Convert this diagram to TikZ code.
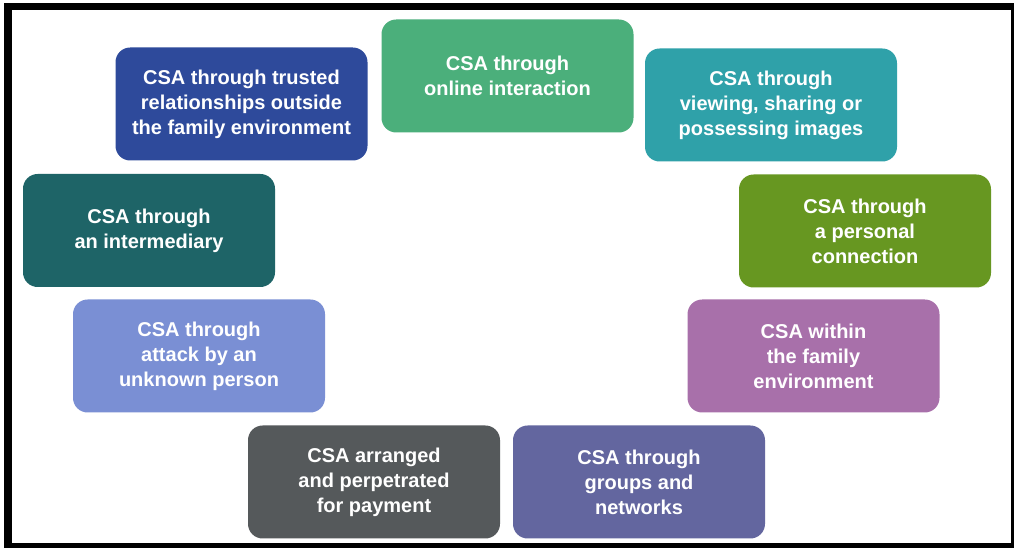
\documentclass[tikz,border=0pt]{standalone}
\usepackage{fontspec}
\usepackage{xcolor}
\usepackage{tikz}
\newfontfamily\boxfont{Liberation Sans}

\definecolor{csablue}{HTML}{2E4A9B}
\definecolor{csagreen}{HTML}{4BAF7B}
\definecolor{csateal}{HTML}{2FA1A9}
\definecolor{csaolive}{HTML}{679721}
\definecolor{csamauve}{HTML}{A870AA}
\definecolor{csaviolet}{HTML}{63669F}
\definecolor{csagrey}{HTML}{55595B}
\definecolor{csasky}{HTML}{7A8FD4}
\definecolor{csapine}{HTML}{1E6467}

\begin{document}
\begin{tikzpicture}[
  x=0.75pt, y=-0.75pt,
  csabox/.style={rounded corners=11pt, minimum width=189pt, minimum height=84.75pt,
                 inner sep=0pt, align=center, text=white,
                 font=\boxfont\bfseries\fontsize{15}{18.75}\selectfont},
]
  \useasboundingbox (0,0) rectangle (1014,548);

  % Frame
  \fill[black] (4,3) rectangle (1014,548);
  \fill[white] (12,10) rectangle (1011,543);

  % Top arc
  \node[csabox, fill=csablue]  (trusted) at (241.5,104) {CSA through trusted\\relationships outside\\the family environment};
  \node[csabox, fill=csagreen] (online)  at (507.5,76)  {CSA through\\online interaction};
  \node[csabox, fill=csateal]  (images)  at (771,105)   {CSA through\\viewing, sharing or\\possessing images};

  % Right side
  \node[csabox, fill=csaolive] (personal) at (865,231)   {CSA through\\a personal\\connection};
  \node[csabox, fill=csamauve] (family)   at (813.5,356) {CSA within\\the family\\environment};

  % Bottom row
  \node[csabox, fill=csaviolet] (groups)  at (639,482) {CSA through\\groups and\\networks};
  \node[csabox, fill=csagrey]   (payment) at (374,482) {CSA arranged\\and perpetrated\\for payment};

  % Left side
  \node[csabox, fill=csasky]  (unknown)      at (199,356)   {CSA through\\attack by an\\unknown person};
  \node[csabox, fill=csapine] (intermediary) at (149,230.5) {CSA through\\an intermediary};
\end{tikzpicture}
\end{document}
